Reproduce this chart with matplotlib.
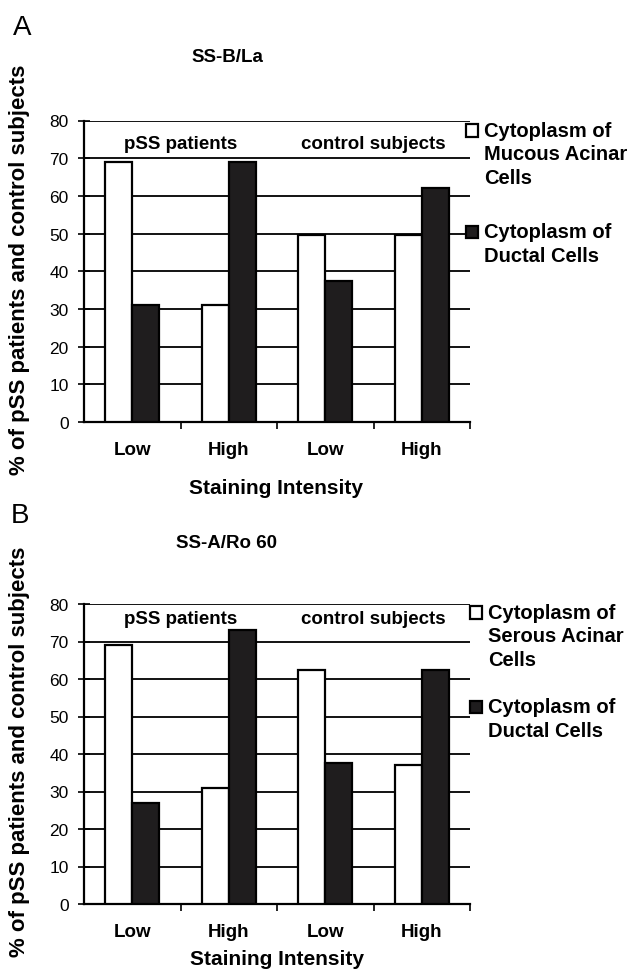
import matplotlib
matplotlib.use('Agg')
import matplotlib.pyplot as plt
import numpy as np

# x categories and group captions
categories = ['Low', 'High', 'Low', 'High']
groups = ['pSS patients', 'control subjects']

# panel A: SS-B/La (% of subjects)
la_acinar = [69, 31, 49.5, 49.5]
la_ductal = [31, 69, 37.5, 62]

# panel B: SS-A/Ro 60 (% of subjects)
ro_acinar = [69, 31, 62.5, 37]
ro_ductal = [27, 73, 37.5, 62.5]

plt.rcParams['font.family'] = ['Liberation Sans', 'DejaVu Sans']

W, H = 638, 978
fig = plt.figure(figsize=(W / 100, H / 100), dpi=100)


def px(x, y):
    # pixel position -> figure fraction
    return x / W, 1 - y / H


def draw_panel(top, bottom, acinar, ductal, acinar_label, group_y, leg_xy, leg_space):
    left, right = 84, 470
    ax = fig.add_axes([left / W, 1 - bottom / H, (right - left) / W, (bottom - top) / H])
    x = np.arange(len(categories))
    w = 0.28
    ax.bar(x - w / 2, acinar, w, color='white', edgecolor='black', linewidth=1.6,
           zorder=3, label=acinar_label)
    ax.bar(x + w / 2, ductal, w, color='#1f1d1e', edgecolor='black', linewidth=1.6,
           zorder=3, label='Cytoplasm of\nDuctal Cells')

    ax.set_xlim(-0.5, 3.5)
    ax.set_ylim(0, 80)
    ax.set_yticks(np.arange(0, 81, 10))
    ax.grid(axis='y', color='black', linewidth=1.3)
    ax.set_axisbelow(True)
    for s in ['top', 'right']:
        ax.spines[s].set_visible(False)
    for s in ['left', 'bottom']:
        ax.spines[s].set_linewidth(1.6)

    ax.set_xticks(x)
    ax.set_xticklabels(categories, fontsize=13.5, fontweight='bold')
    ax.set_xticks([0.5, 1.5, 2.5, 3.5], minor=True)
    ax.tick_params(axis='x', which='major', length=0, pad=14)
    ax.tick_params(axis='x', which='minor', length=5, width=1.2, direction='out')
    ax.tick_params(axis='y', direction='inout', length=8, width=1.2, labelsize=12.5, pad=7)

    ax.text(0.5, group_y, groups[0], ha='center', va='center', fontsize=13.5,
            fontweight='bold', zorder=4)
    ax.text(2.5, group_y, groups[1], ha='center', va='center', fontsize=13.5,
            fontweight='bold', zorder=4)

    leg = ax.legend(loc='upper left', bbox_to_anchor=px(*leg_xy), bbox_transform=fig.transFigure,
                    frameon=False, borderpad=0, borderaxespad=0, handlelength=0.6,
                    handleheight=0.6, handletextpad=0.3, labelspacing=leg_space,
                    prop={'size': 14.5, 'weight': 'bold'})
    # square sits beside the first line of each label, as in the original
    line_pt = 17
    for t, p in zip(leg.get_texts(), leg.get_patches()):
        t.set_linespacing(1.3)
        n = t.get_text().count('\n')
        p.set_y(p.get_y() + n * line_pt / 2)
    return ax


ax1 = draw_panel(121.5, 423, la_acinar, la_ductal, 'Cytoplasm of\nMucous Acinar\nCells', 74,
                 (466, 122), 1.75)
ax2 = draw_panel(605, 905, ro_acinar, ro_ductal, 'Cytoplasm of\nSerous Acinar\nCells', 76,
                 (470, 604), 1.4)

ylab = '% of pSS patients and control subjects'
fig.text(*px(22, 28), 'A', fontsize=20, ha='center', va='center')
fig.text(*px(20, 516), 'B', fontsize=20, ha='center', va='center')
fig.text(*px(227, 57), 'SS-B/La', fontsize=13.5, fontweight='bold', ha='center', va='center')
fig.text(*px(226, 543), 'SS-A/Ro 60', fontsize=13.5, fontweight='bold', ha='center', va='center')
fig.text(*px(20, 270), ylab, rotation=90, fontsize=16, fontweight='bold', ha='center', va='center')
fig.text(*px(20, 752), ylab, rotation=90, fontsize=16, fontweight='bold', ha='center', va='center')
fig.text(*px(276, 488), 'Staining Intensity', fontsize=15, fontweight='bold', ha='center', va='center')
fig.text(*px(277, 960), 'Staining Intensity', fontsize=15, fontweight='bold', ha='center', va='center')

fig.savefig('out.png', dpi=100)
